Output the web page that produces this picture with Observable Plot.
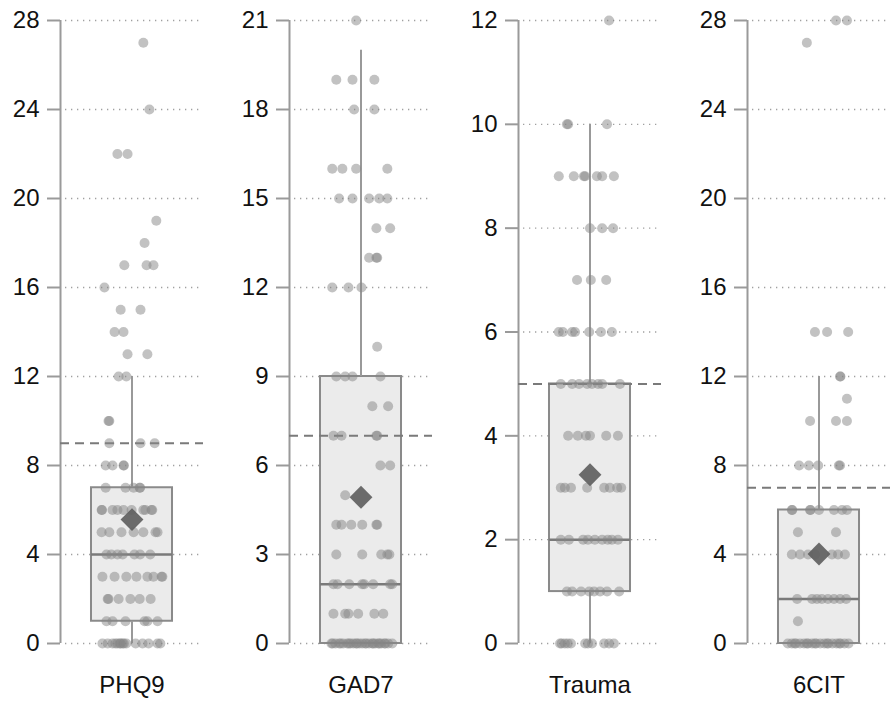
<!DOCTYPE html>
<html>
<head>
<meta charset="utf-8">
<script src="https://cdn.jsdelivr.net/npm/d3@7"></script>
<script src="https://cdn.jsdelivr.net/npm/@observablehq/plot@0.6"></script>
<style>
  html, body { margin: 0; padding: 0; background: white; }
  #chart { display: flex; width: 894px; height: 703px; }
  svg g[aria-label="y-axis tick"] path { stroke: #9a9a9a; stroke-width: 2; }
  svg g[aria-label="y-axis tick label"] text { fill: #111; }
</style>
</head>
<body>
<div id="chart"></div>
<script>
// ---- data ----
const categories = ["PHQ9", "GAD7", "Trauma", "6CIT"];
const yMax = [28, 21, 12, 28];
const yTickStep = [4, 3, 2, 4];
const q1 = [1, 0, 1, 0];
const medians = [4, 2, 2, 2];
const q3 = [7, 9, 5, 6];
const whiskerLow = [0, 0, 0, 0];
const whiskerHigh = [12, 20, 10, 12];
const means = [5.57, 4.93, 3.25, 4.02];
const cutoffs = [9, 7, 5, 7];

// [score, horizontal jitter (in box half-widths)]
const phq9Points = [
  [27,.28],[24,.43],[22,-.36],[22,-.11],[19,.6],[18,.31],[17,-.19],[17,.36],[17,.53],[16,-.68],
  [15,-.28],[15,.21],[14,-.43],[14,-.21],[13,-.11],[13,.38],[12,-.33],[12,-.14],[10,-.58],[10,-.56],
  [9,-.56],[9,.21],[9,.56],[8,-.65],[8,-.48],[8,-.21],[8,-.2],[7,-.65],[7,-.16],[7,.04],[7,.19],[7,.2],
  [6,-.75],[6,-.74],[6,-.48],[6,-.36],[6,-.21],[6,-.01],[6,.28],[6,.48],[6,.5],[6,.33],
  [5,-.75],[5,-.56],[5,-.26],[5,.04],[5,.28],[5,.58],[5,.63],
  [4,-.63],[4,-.51],[4,-.36],[4,-.23],[4,.06],[4,.2],[4,.45],
  [3,-.73],[3,-.43],[3,-.14],[3,.11],[3,.38],[3,.53],[3,.73],[3,.75],
  [2,-.6],[2,-.58],[2,-.33],[2,-.04],[2,.19],[2,.46],
  [1,-.63],[1,-.48],[1,-.16],[1,.31],[1,.38],[1,.63],
  [0,-.73],[0,-.6],[0,-.48],[0,-.41],[0,-.36],[0,-.28],[0,-.23],[0,-.14],[0,.09],[0,.26],[0,.41],[0,.63],[0,.7],[0,-.3],[0,-.2]
];
const gad7Points = [
  [21,-.12],[19,-.61],[19,-.21],[19,.33],[18,-.17],[18,.33],[16,-.71],[16,-.46],[16,-.12],[16,.65],
  [15,-.54],[15,-.21],[15,.2],[15,.45],[15,.65],[14,.38],[14,.72],[13,.2],[13,.38],[13,.4],
  [12,-.71],[12,-.31],[12,.01],[10,.4],[9,-.61],[9,-.39],[9,-.21],[9,.48],[8,.28],[8,.67],
  [7,-.68],[7,-.48],[7,.38],[7,.4],[6,.48],[6,.72],[5,-.39],
  [4,-.61],[4,-.48],[4,-.24],[4,.03],[4,.38],[4,.4],
  [3,-.61],[3,.03],[3,.5],[3,.65],[3,.7],
  [2,-.68],[2,-.58],[2,-.29],[2,.03],[2,.08],[2,.3],[2,.72],[2,.77],
  [1,-.68],[1,-.39],[1,-.31],[1,-.07],[1,.33],[1,.55],
  [0,-.73],[0,-.63],[0,-.54],[0,-.44],[0,-.34],[0,-.26],[0,-.19],[0,-.12],[0,-.04],[0,.03],[0,.13],
  [0,.2],[0,.28],[0,.35],[0,.43],[0,.5],[0,.58],[0,.67],[0,.77],[0,-.7],[0,-.5],[0,-.3],[0,-.1],
  [0,.1],[0,.3],[0,.45],[0,.6]
];
const traumaPoints = [
  [12,.47],[10,-.54],[10,-.57],[10,.42],
  [9,-.77],[9,-.4],[9,-.15],[9,-.12],[9,.17],[9,.3],[9,.59],
  [8,0],[8,.3],[8,.57],[7,-.32],[7,.02],[7,.4],
  [6,-.77],[6,-.67],[6,-.44],[6,-.37],[6,-.02],[6,.27],[6,.54],
  [5,-.72],[5,-.44],[5,-.27],[5,-.07],[5,.05],[5,.2],[5,.3],[5,.74],
  [4,-.54],[4,-.3],[4,-.1],[4,0],[4,.4],[4,.69],
  [3,-.72],[3,-.62],[3,-.47],[3,-.07],[3,.35],[3,.49],[3,.67],[3,.77],
  [2,-.72],[2,-.52],[2,-.17],[2,-.05],[2,.12],[2,.3],[2,.44],[2,.54],[2,.69],
  [1,-.57],[1,-.44],[1,-.22],[1,-.02],[1,.1],[1,.25],[1,.42],[1,.72],
  [0,-.74],[0,-.62],[0,-.47],[0,-.12],[0,.05],[0,.35],[0,.47],[0,.59],[0,-.7],[0,-.55],[0,-.05]
];
const cit6Points = [
  [28,.42],[28,.69],[27,-.3],[14,-.1],[14,.2],[14,.72],[12,.52],[12,.53],[11,.69],
  [10,-.22],[10,.42],[10,.69],[8,-.49],[8,-.25],[8,-.02],[8,.49],[8,.52],
  [6,-.67],[6,-.66],[6,-.22],[6,-.21],[6,0],[6,.37],[6,.57],[6,.69],[5,-.52],[5,.42],
  [4,-.67],[4,-.47],[4,-.27],[4,-.1],[4,.32],[4,.47],[4,.64],
  [2,-.54],[2,-.17],[2,-.05],[2,.07],[2,.22],[2,.37],[2,.52],[2,.67],[1,-.52],
  [0,-.77],[0,-.67],[0,-.57],[0,-.47],[0,-.37],[0,-.27],[0,-.17],[0,-.07],[0,.03],[0,.13],[0,.23],
  [0,.33],[0,.43],[0,.53],[0,.63],[0,.73],[0,-.6],[0,-.3],[0,-.1],[0,.2],[0,.5]
];
const pointsByCategory = [phq9Points, gad7Points, traumaPoints, cit6Points];

// ---- drawing ----
const panelWidths = [229, 229, 229, 207];
const panelMarginRight = [26, 26, 26, 4];
const xHalf = 1.765;
const chart = document.getElementById("chart");

categories.forEach((cat, i) => {
  const stats = [{q1: q1[i], med: medians[i], q3: q3[i], lo: whiskerLow[i], hi: whiskerHigh[i], mean: means[i], cut: cutoffs[i]}];
  const pts = pointsByCategory[i].map(([v, j]) => ({v, j}));
  const ticks = d3.range(0, yMax[i] + 1, yTickStep[i]);
  const svg = Plot.plot({
    width: panelWidths[i],
    height: 703,
    marginLeft: 60,
    marginRight: panelMarginRight[i],
    marginTop: 20,
    marginBottom: 60,
    style: {fontFamily: "'Liberation Sans', Arial, sans-serif", fontSize: "24px", color: "#111", background: "white", overflow: "visible"},
    x: {domain: [-xHalf, xHalf], axis: null},
    y: {domain: [0, yMax[i]], axis: null},
    marks: [
      Plot.gridY(ticks, {insetLeft: 5, stroke: "#a0a0a0", strokeOpacity: 1, strokeWidth: 1.3, strokeDasharray: "1.3,4.7"}),
      Plot.ruleX([-xHalf], {y1: 0, y2: yMax[i], stroke: "#9a9a9a", strokeWidth: 2}),
      Plot.axisY(ticks, {tickSize: 13, tickPadding: 8, fontSize: 24, tickFormat: d3.format("d")}),
      Plot.rect(stats, {x1: -1, x2: 1, y1: "q1", y2: "q3", fill: "#ebebeb", stroke: "#8a8a8a", strokeWidth: 2}),
      Plot.ruleX(stats, {x: 0, y1: "q3", y2: "hi", stroke: "#999", strokeWidth: 2}),
      Plot.ruleX(stats, {x: 0, y1: "lo", y2: "q1", stroke: "#999", strokeWidth: 2}),
      Plot.ruleY(stats, {y: "med", x1: -1, x2: 1, stroke: "#7a7a7a", strokeWidth: 2.5}),
      Plot.ruleY(stats, {y: "cut", stroke: "#7a7a7a", strokeWidth: 2, strokeDasharray: "9,6"}),
      Plot.dot(pts, {x: "j", y: "v", r: 5, fill: "#858585", fillOpacity: 0.5, stroke: "none"}),
      Plot.dot(stats, {x: 0, y: "mean", symbol: "diamond2", r: 10.3, fill: "#5f5f5f", fillOpacity: 0.92, stroke: "none"}),
      Plot.text([cat], {frameAnchor: "bottom", dy: 42, fontSize: 24, fill: "#111", lineAnchor: "middle"})
    ]
  });
  chart.appendChild(svg);
});
</script>
</body>
</html>
